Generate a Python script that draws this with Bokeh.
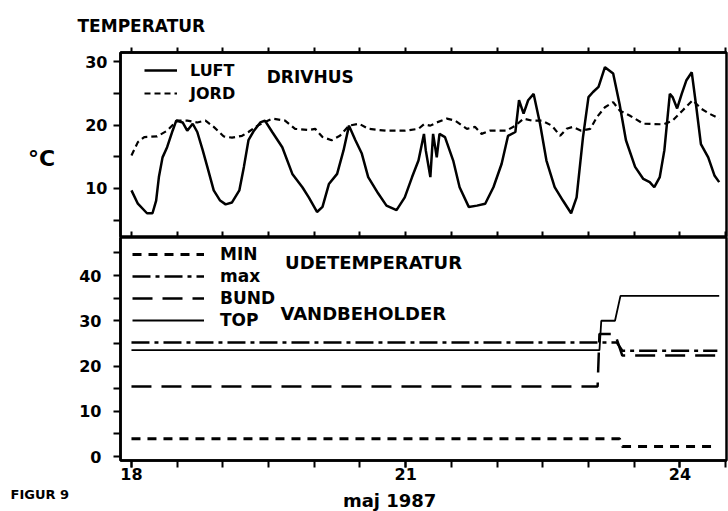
from bokeh.plotting import figure
from bokeh.layouts import column, row
from bokeh.models import Range1d, FixedTicker, Legend, LegendItem, Label, LinearAxis
from bokeh.embed import file_html
from bokeh.resources import INLINE

# ---------------- data ----------------
# Drivhus (greenhouse): air (LUFT) and soil (JORD), day of May 1987
luft_dag = [18.00, 18.07, 18.17, 18.23, 18.27, 18.30, 18.34, 18.39, 18.45, 18.49,
            18.56, 18.61, 18.67, 18.72, 18.78, 18.83, 18.90, 18.97, 19.03, 19.10,
            19.18, 19.23, 19.28, 19.34, 19.41, 19.46, 19.54, 19.65, 19.76, 19.87,
            19.94, 20.03, 20.09, 20.16, 20.25, 20.32, 20.38, 20.45, 20.52, 20.59,
            20.70, 20.79, 20.90, 20.99, 21.07, 21.14, 21.20, 21.22, 21.27, 21.30,
            21.34, 21.37, 21.43, 21.52, 21.59, 21.69, 21.78, 21.87, 21.96, 22.05,
            22.12, 22.20, 22.24, 22.29, 22.34, 22.40, 22.47, 22.54, 22.63, 22.72,
            22.81, 22.87, 22.94, 23.00, 23.05, 23.11, 23.18, 23.27, 23.34, 23.41,
            23.51, 23.60, 23.67, 23.72, 23.78, 23.83, 23.89, 23.92, 23.97, 24.02,
            24.07, 24.13, 24.18, 24.23, 24.31, 24.38, 24.43]
luft_temp = [9.7, 7.6, 6.1, 6.1, 8.1, 11.8, 14.9, 16.5, 19.1, 20.7,
             20.4, 19.1, 20.2, 18.9, 16.0, 13.4, 9.7, 8.1, 7.5, 7.8,
             9.7, 13.4, 17.6, 19.1, 20.4, 20.7, 18.9, 16.5, 12.3, 10.2,
             8.6, 6.3, 7.1, 10.7, 12.3, 16.0, 19.9, 17.6, 15.5, 11.8,
             9.2, 7.3, 6.6, 8.6, 11.8, 14.4, 18.6, 16.0, 11.8, 18.6,
             14.9, 18.6, 18.1, 14.4, 10.2, 7.1, 7.3, 7.6, 10.2, 13.9,
             18.3, 18.9, 23.9, 21.8, 23.9, 24.9, 20.2, 14.4, 10.2, 8.1,
             6.1, 8.6, 18.1, 24.4, 25.2, 26.0, 29.1, 28.1, 23.3, 17.6,
             13.4, 11.5, 11.0, 10.2, 11.8, 16.0, 24.9, 24.4, 22.6, 24.9,
             27.0, 28.3, 22.8, 17.0, 14.9, 12.0, 11.0]

jord_dag = [18.00, 18.07, 18.14, 18.28, 18.39, 18.50, 18.61, 18.72, 18.81, 18.90,
            19.01, 19.10, 19.21, 19.28, 19.38, 19.45, 19.54, 19.68, 19.79, 19.94,
            20.01, 20.09, 20.19, 20.28, 20.38, 20.49, 20.59, 20.78, 20.99, 21.14,
            21.20, 21.27, 21.34, 21.45, 21.54, 21.67, 21.76, 21.83, 21.92, 22.10,
            22.20, 22.29, 22.38, 22.49, 22.60, 22.69, 22.76, 22.83, 22.92, 23.02,
            23.09, 23.18, 23.27, 23.34, 23.45, 23.60, 23.82, 23.92, 24.03, 24.14,
            24.23, 24.32, 24.43]
jord_temp = [15.2, 17.3, 18.1, 18.2, 19.1, 20.7, 20.7, 20.4, 20.7, 19.7,
             18.2, 18.0, 18.3, 18.9, 19.9, 20.4, 21.0, 20.7, 19.4, 19.2,
             19.4, 18.1, 17.6, 18.3, 19.9, 20.2, 19.4, 19.1, 19.1, 19.4,
             20.1, 19.9, 20.4, 21.0, 20.7, 19.4, 19.7, 18.6, 19.1, 19.1,
             19.9, 21.0, 20.7, 20.7, 19.9, 18.3, 19.4, 19.7, 19.1, 19.4,
             21.2, 22.8, 23.6, 22.3, 21.5, 20.2, 20.1, 20.7, 22.3, 23.9,
             22.6, 21.8, 21.0]

# Udetemperatur (outside) MIN / max and vandbeholder (water tank) BUND / TOP
min_dag = [18.00, 23.34, 23.37, 24.37]
min_temp = [3.9, 3.9, 2.2, 2.2]
max_dag = [18.00, 23.31, 23.37, 24.41]
max_temp = [25.2, 25.2, 23.4, 23.4]
bund_dag = [18.00, 23.10, 23.12, 23.29, 23.37, 24.43]
bund_temp = [15.5, 15.5, 27.1, 27.1, 22.3, 22.3]
top_dag = [18.00, 23.12, 23.14, 23.29, 23.35, 24.43]
top_temp = [23.5, 23.5, 30.0, 30.0, 35.5, 35.5]

x_ticks = [18, 21, 24]
x_halfday = [18, 18.5, 19, 19.5, 20, 20.5, 21, 21.5, 22, 22.5, 23, 23.5, 24, 24.5]
y1_ticks = [10, 20, 30]
y1_minor = [5, 15, 25]
y2_ticks = [0, 10, 20, 30, 40]
y2_minor = [5, 15, 25, 35, 45]

FONT = "DejaVu Sans"
LW = 2.5
TXT = dict(text_font=FONT, text_font_style="bold", text_color="black",
           text_baseline="middle")
STRIP_W = 76
PANEL_W = 728 - STRIP_W
BORDER_L = 118 - STRIP_W


def style_axis(ax, size="16px"):
    ax.axis_line_width = LW
    ax.axis_line_color = "black"
    ax.major_tick_line_width = 2
    ax.minor_tick_line_width = 2
    ax.major_tick_line_color = "black"
    ax.minor_tick_line_color = "black"
    ax.major_label_text_font = FONT
    ax.major_label_text_font_style = "bold"
    ax.major_label_text_font_size = size
    ax.major_label_text_color = "black"


def text_fig(w, h, x_range=None):
    f = figure(width=w, height=h,
               x_range=x_range if x_range is not None else Range1d(0, w),
               y_range=Range1d(0, h),
               output_backend="svg", toolbar_location=None,
               x_axis_location=None, y_axis_location=None,
               min_border=0, min_border_left=0, min_border_right=0,
               min_border_top=0, min_border_bottom=0)
    f.grid.visible = False
    f.outline_line_color = None
    return f


xr = Range1d(17.88, 24.51)

# ---------------- header & left strip (text only) ----------------
head = text_fig(728, 40)
head.add_layout(Label(x=77, y=15, text="TEMPERATUR", text_align="left",
                      text_font_size="17px", **TXT))

strip = text_fig(STRIP_W, 471)
strip.add_layout(Label(x=41, y=353, text="°C", text_align="center",
                       text_font_size="22px", **TXT))
strip.add_layout(Label(x=10, y=17, text="FIGUR 9", text_align="left",
                       text_font_size="13px", **TXT))

# ---------------- top panel ----------------
p1 = figure(width=PANEL_W, height=197, x_range=xr, y_range=Range1d(2.28, 31.42),
            output_backend="svg", toolbar_location=None,
            min_border_left=BORDER_L, min_border_right=2, min_border_top=12,
            min_border_bottom=0)
p1.grid.visible = False
p1.outline_line_color = "black"
p1.outline_line_width = LW

ya1 = p1.yaxis[0]
ya1.ticker = FixedTicker(ticks=y1_ticks, minor_ticks=y1_minor)
style_axis(ya1)
ya1.major_tick_out = 7
ya1.major_tick_in = 0
ya1.minor_tick_out = 7
ya1.minor_tick_in = 0
ya1.major_label_standoff = 6

xa1 = p1.xaxis[0]
xa1.ticker = FixedTicker(ticks=[], minor_ticks=x_halfday)
style_axis(xa1)
xa1.minor_tick_in = 6
xa1.minor_tick_out = 0
xa1.major_tick_in = 0
xa1.major_tick_out = 0

top_ax = LinearAxis(ticker=FixedTicker(ticks=[], minor_ticks=x_halfday))
style_axis(top_ax)
top_ax.minor_tick_in = 0
top_ax.minor_tick_out = 5
top_ax.major_tick_in = 0
top_ax.major_tick_out = 0
p1.add_layout(top_ax, "above")

r_luft = p1.line(luft_dag, luft_temp, line_color="black", line_width=2.5)
r_jord = p1.line(jord_dag, jord_temp, line_color="black", line_width=2.2, line_dash="6 4")

leg1 = Legend(items=[LegendItem(label="LUFT", renderers=[r_luft]),
                     LegendItem(label="JORD", renderers=[r_jord])],
              location=(24, 134), padding=0, margin=0, spacing=3,
              glyph_width=33, glyph_height=20, label_height=20, label_standoff=13,
              border_line_alpha=0, background_fill_alpha=0,
              label_text_font=FONT, label_text_font_style="bold",
              label_text_font_size="16px", label_text_color="black")
p1.add_layout(leg1)

p1.add_layout(Label(x=19.48, y=27.5, text="DRIVHUS", text_align="left",
                    text_font_size="17px", **TXT))

# ---------------- bottom panel ----------------
p2 = figure(width=PANEL_W, height=249, x_range=xr, y_range=Range1d(-0.88, 48.4),
            output_backend="svg", toolbar_location=None,
            min_border_left=BORDER_L, min_border_right=2, min_border_top=0,
            min_border_bottom=26)
p2.grid.visible = False
p2.outline_line_color = "black"
p2.outline_line_width = LW

ya2 = p2.yaxis[0]
ya2.ticker = FixedTicker(ticks=y2_ticks, minor_ticks=y2_minor)
style_axis(ya2)
ya2.major_tick_out = 7
ya2.major_tick_in = 0
ya2.minor_tick_out = 7
ya2.minor_tick_in = 0
ya2.major_label_standoff = 12

xa2 = p2.xaxis[0]
xa2.ticker = FixedTicker(ticks=x_ticks, minor_ticks=x_halfday)
style_axis(xa2)
xa2.major_tick_out = 7
xa2.major_tick_in = 0
xa2.minor_tick_out = 7
xa2.minor_tick_in = 0
xa2.major_label_standoff = 0

r_min = p2.line(min_dag, min_temp, line_color="black", line_width=3, line_dash="9 7")
r_max = p2.line(max_dag, max_temp, line_color="black", line_width=2.5, line_dash="18 5 4 5")
r_bund = p2.line(bund_dag, bund_temp, line_color="black", line_width=2.5, line_dash="20 10")
r_top = p2.line(top_dag, top_temp, line_color="black", line_width=1.8)

leg2 = Legend(items=[LegendItem(label="MIN", renderers=[r_min]),
                     LegendItem(label="max", renderers=[r_max]),
                     LegendItem(label="BUND", renderers=[r_bund]),
                     LegendItem(label="TOP", renderers=[r_top])],
              location=(12, 129), padding=0, margin=0, spacing=0,
              glyph_width=72, glyph_height=22, label_height=22, label_standoff=16,
              border_line_alpha=0, background_fill_alpha=0,
              label_text_font=FONT, label_text_font_style="bold",
              label_text_font_size="17px", label_text_color="black")
p2.add_layout(leg2)

p2.add_layout(Label(x=19.68, y=42.9, text="UDETEMPERATUR", text_align="left",
                    text_font_size="18px", **TXT))
p2.add_layout(Label(x=19.63, y=31.6, text="VANDBEHOLDER", text_align="left",
                    text_font_size="18px", **TXT))

# ---------------- footer (text only, frame aligned with the panels) ----------------
foot = text_fig(PANEL_W, 25, x_range=xr)
foot.add_layout(Label(x=20.825, y=11, text="maj 1987", text_align="center",
                      text_font_size="18px", **TXT))

layout = column(head, row(strip, column(p1, p2, foot, spacing=0), spacing=0), spacing=0)
open("out.html", "w").write(file_html(layout, INLINE))
